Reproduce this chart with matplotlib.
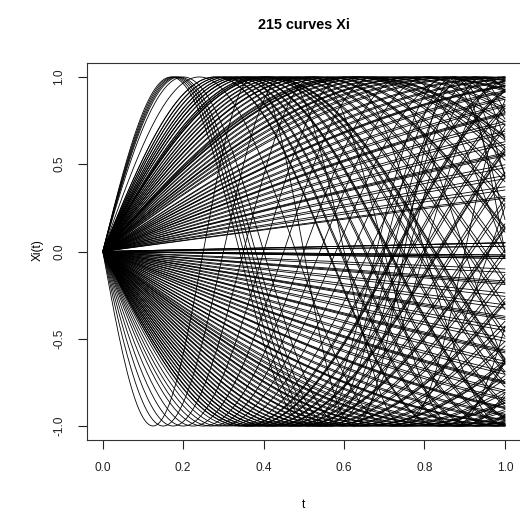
import numpy as np
import matplotlib
matplotlib.use("Agg")
import matplotlib.pyplot as plt

plt.rcParams['font.family'] = ['Liberation Sans', 'DejaVu Sans']

# angular frequencies of the curves, read off the peak / trough positions
# curves rising first: X(t) = sin(w t)
freq_up = [
    9.24, 8.98, 8.73, 8.5, 8.27, 7.85, 6.54,
    5.6, 5.62, 5.3, 5.33, 5.05, 5.08, 4.8, 4.83, 4.6, 4.63,
    4.4, 4.43, 4.2, 4.23, 4.0, 4.03, 3.8, 3.83, 3.62, 3.65,
    3.45, 3.48, 3.3, 3.33, 3.15, 3.18, 3.0, 3.03, 2.85, 2.88,
    2.7, 2.73, 2.56, 2.59, 2.42, 2.45, 2.3, 2.33, 2.18, 2.21,
    2.06, 2.09, 1.95, 1.98, 1.85, 1.88, 1.75, 1.78, 1.65, 1.68,
    1.52, 1.54, 1.42, 1.44, 1.33, 1.35, 1.24, 1.26, 1.15, 1.17,
    1.06, 1.08, 0.98, 1.0, 0.9, 0.92, 0.82, 0.84, 0.74, 0.76,
    0.66, 0.68, 0.58, 0.6, 0.5, 0.52, 0.43, 0.45, 0.36, 0.38,
    0.31, 0.32, 2.5, 2.52, 3.9, 3.92, 0.05, 0.05, 0.03, 0.03,
    4.41, 3.81, 3.01, 2.43, 1.96, 1.25, 0.91, 0.59, 0.05,
]
# curves falling first: X(t) = -sin(w t)
freq_down = [
    12.57, 10.47, 8.98, 7.85, 6.98, 6.28, 5.82, 5.42, 5.07, 4.75,
    4.5, 4.53, 4.3, 4.33, 4.1, 4.13, 3.92, 3.95, 3.75, 3.78,
    3.58, 3.61, 3.42, 3.45, 3.27, 3.3, 3.12, 3.15, 2.98, 3.01,
    2.84, 2.87, 2.7, 2.73, 2.57, 2.6, 2.44, 2.47, 2.32, 2.35,
    2.2, 2.23, 2.09, 2.12, 1.98, 2.01, 1.88, 1.91, 1.78, 1.81,
    1.69, 1.72, 1.6, 1.63,
    1.5, 1.52, 1.4, 1.42, 1.3, 1.32, 1.2, 1.22, 1.1, 1.12,
    1.0, 1.02, 0.92, 0.94, 0.84, 0.86, 0.76, 0.78, 0.68, 0.7,
    0.6, 0.62, 0.52, 0.54, 0.45, 0.47, 0.38, 0.4, 0.31, 0.33,
    0.24, 0.26, 0.17, 0.19, 0.1, 0.12, 0.04, 0.04, 0.02, 0.02,
    0.03, 0.03,
    4.31, 3.76, 3.28, 2.85, 2.45, 2.1, 1.79, 1.41, 1.11, 0.85,
    0.61, 0.39, 0.18,
]

x_ticks = [0.0, 0.2, 0.4, 0.6, 0.8, 1.0]
y_ticks = [-1.0, -0.5, 0.0, 0.5, 1.0]

t = np.linspace(0, 1, 201)

fig = plt.figure(figsize=(5.2, 5.13), dpi=100)
ax = fig.add_axes([86.7 / 520, 73 / 513, (521 - 86.7) / 520, (440 - 63) / 513])

for w in freq_up:
    ax.plot(t, np.sin(w * t), color="black", lw=0.6)
for w in freq_down:
    ax.plot(t, -np.sin(w * t), color="black", lw=0.6)

ax.set_xlim(-0.04, 1.04)
ax.set_ylim(-1.08, 1.08)
ax.set_xticks(x_ticks)
ax.set_xticklabels([f"{v:.1f}" for v in x_ticks])
ax.set_yticks(y_ticks)
ax.set_yticklabels([f"{v:.1f}" for v in y_ticks], rotation=90, va="center")
ax.tick_params(length=6.5, width=0.8, labelsize=8.6, pad=9, colors="#222222")
for s in ax.spines.values():
    s.set_linewidth(0.8)
    s.set_color("#333333")

fig.text(304 / 520, 1 - 25 / 513, "215 curves Xi", ha="center", va="center",
         fontsize=10.4, fontweight="bold")
fig.text(304 / 520, 1 - 505 / 513, "t", ha="center", va="center", fontsize=8.6)
fig.text(38 / 520, 1 - 250 / 513, "Xi(t)", ha="center", va="center",
         fontsize=8.6, rotation=90)

fig.savefig("out.png", dpi=100)
